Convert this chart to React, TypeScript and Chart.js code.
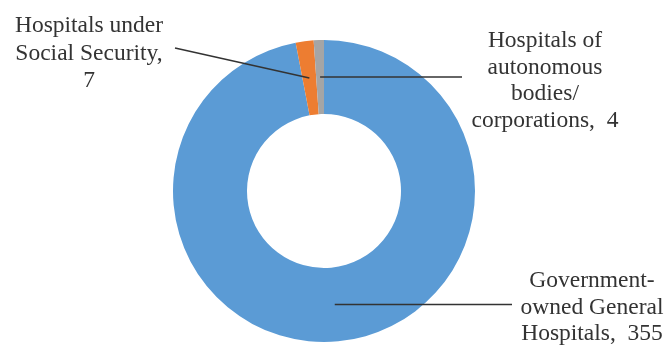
import React, { useEffect, useRef } from "react";
import { Chart, registerables } from "chart.js";

Chart.register(...registerables);

const categories = [
  "Government-owned General Hospitals",
  "Hospitals under Social Security",
  "Hospitals of autonomous bodies/corporations",
];
const values = [355, 7, 4];
const colors = ["#5B9BD5", "#ED7D31", "#A5A5A5"];
const labelLines = [
  ["Government-", "owned General", "Hospitals,  355"],
  ["Hospitals under", "Social Security,", "7"],
  ["Hospitals of", "autonomous", "bodies/", "corporations,  4"],
];

// label placement (layout only)
const labelLayout = [
  { x: 592, y: 287, lh: 26.5, lineTo: { x: 512, horizontal: true } },
  { x: 89, y: 32, lh: 27.5, lineTo: { x: 175, y: 48, horizontal: false } },
  { x: 545, y: 47, lh: 26.7, lineTo: { x: 462, horizontal: true } },
];

const labelPlugin = {
  id: "outsideLabels",
  afterDraw(chart: any) {
    const ctx = chart.ctx;
    const meta = chart.getDatasetMeta(0);
    ctx.save();
    meta.data.forEach((arc: any, i: number) => {
      const c = arc.getCenterPoint();
      const lay = labelLayout[i];
      ctx.beginPath();
      ctx.strokeStyle = "#333";
      ctx.lineWidth = 1.5;
      ctx.moveTo(c.x, c.y);
      if (lay.lineTo.horizontal) ctx.lineTo(lay.lineTo.x, c.y);
      else ctx.lineTo(lay.lineTo.x, (lay.lineTo as any).y);
      ctx.stroke();
      ctx.fillStyle = "#333";
      ctx.font = '23.5px "Liberation Serif", "Times New Roman", serif';
      ctx.textAlign = "center";
      ctx.textBaseline = "alphabetic";
      labelLines[i].forEach((t, k) => {
        ctx.fillText(t, lay.x, lay.y + k * lay.lh);
      });
    });
    ctx.restore();
  },
};

export default function App() {
  const ref = useRef<HTMLCanvasElement>(null);
  useEffect(() => {
    if (!ref.current) return;
    const chart = new Chart(ref.current, {
      type: "doughnut",
      data: {
        labels: categories,
        datasets: [
          {
            data: values,
            backgroundColor: colors,
            borderWidth: 0,
          },
        ],
      },
      options: {
        responsive: false,
        animation: false,
        devicePixelRatio: 1,
        cutout: "51%",
        layout: { padding: { top: 40, bottom: 3, left: 0, right: 22 } },
        plugins: {
          legend: { display: false },
          tooltip: { enabled: false },
        },
      },
      plugins: [labelPlugin],
    });
    return () => chart.destroy();
  }, []);
  return (
    <div style={{ position: "absolute", left: 0, top: 0, width: 670, height: 345, background: "#fff" }}>
      <canvas ref={ref} width={670} height={345} />
    </div>
  );
}
